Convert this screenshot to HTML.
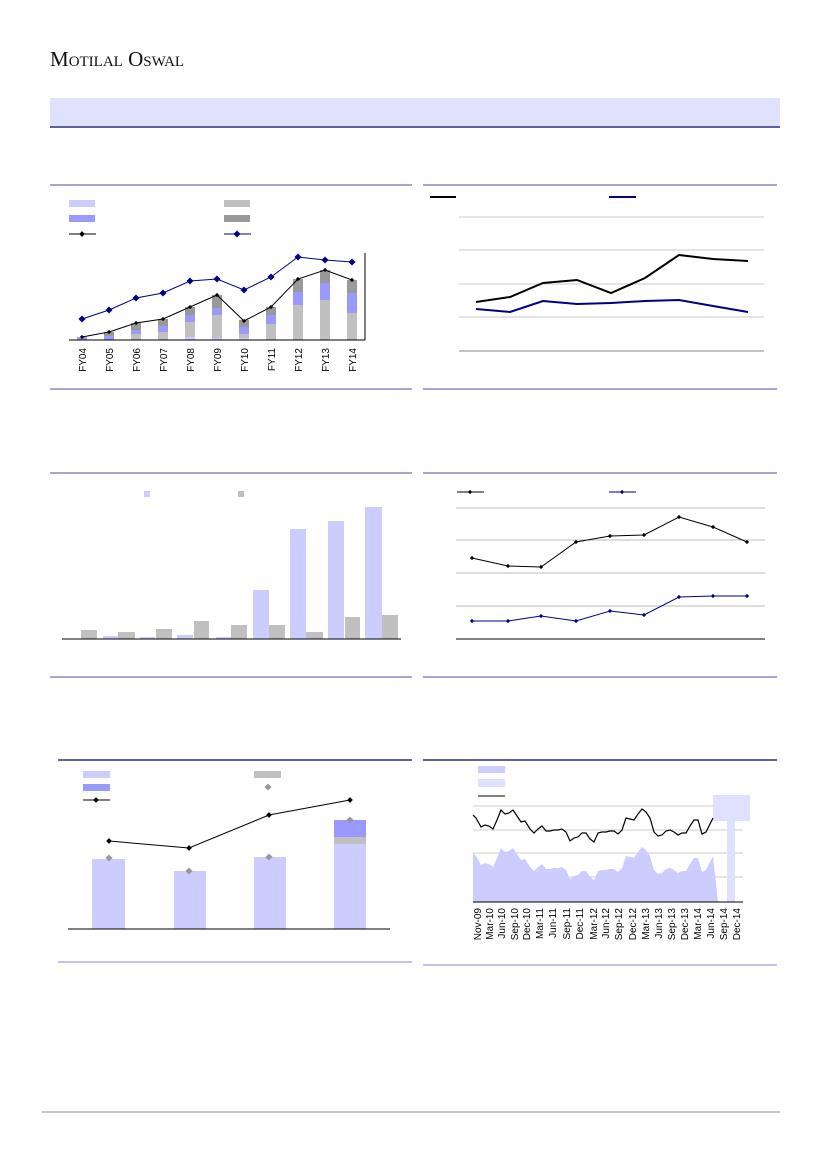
<!DOCTYPE html>
<html><head><meta charset="utf-8"><style>body{margin:0;background:#fff}svg{display:block}</style></head><body>
<svg width="827" height="1169" viewBox="0 0 827 1169" xmlns="http://www.w3.org/2000/svg" font-family="Liberation Sans, sans-serif">
<rect width="827" height="1169" fill="#fff"/>
<text x="50" y="66" font-family="Liberation Serif, serif" font-size="21" fill="#111">M<tspan font-size="15">OTILAL</tspan> O<tspan font-size="15">SWAL</tspan></text>
<rect x="50" y="98" width="730" height="28" fill="#e0e0ff"/>
<line x1="50" y1="127" x2="780" y2="127" stroke="#000066" stroke-width="1.2"/>

<!-- Chart 1 -->
<g>
<line x1="50" y1="185" x2="412" y2="185" stroke="#7070b0" stroke-width="1.2"/>
<line x1="50" y1="389" x2="412" y2="389" stroke="#7070b0" stroke-width="1.2"/>
<rect x="69" y="200" width="26" height="7" fill="#ccccff"/>
<rect x="69" y="215" width="26" height="7" fill="#9999ff"/>
<line x1="69" y1="234" x2="96" y2="234" stroke="#000"/><rect x="80" y="232" width="4" height="4" transform="rotate(45 82 234)"/>
<rect x="224" y="200" width="26" height="7" fill="#c0c0c0"/>
<rect x="224" y="215" width="26" height="7" fill="#999"/>
<line x1="224" y1="234" x2="251" y2="234" stroke="#000080"/><rect x="234.5" y="231.5" width="5" height="5" fill="#000080" transform="rotate(45 237 234)"/>
<g>
<!-- bars: x center, light(bottom gray) stacks -->
<rect x="77" y="337" width="10" height="3" fill="#9999ff"/>
<rect x="104" y="336" width="10" height="4" fill="#9999ff"/><rect x="104" y="332" width="10" height="4" fill="#999"/>
<rect x="131" y="334" width="10" height="6" fill="#c0c0c0"/><rect x="131" y="330" width="10" height="4" fill="#9999ff"/><rect x="131" y="323" width="10" height="7" fill="#999"/>
<rect x="158" y="332" width="10" height="8" fill="#c0c0c0"/><rect x="158" y="326" width="10" height="6" fill="#9999ff"/><rect x="158" y="319" width="10" height="7" fill="#999"/>
<rect x="185" y="337" width="10" height="3" fill="#ccccff"/><rect x="185" y="322" width="10" height="15" fill="#c0c0c0"/><rect x="185" y="315" width="10" height="7" fill="#9999ff"/><rect x="185" y="307" width="10" height="8" fill="#999"/>
<rect x="212" y="338" width="10" height="2" fill="#ccccff"/><rect x="212" y="315" width="10" height="23" fill="#c0c0c0"/><rect x="212" y="308" width="10" height="7" fill="#9999ff"/><rect x="212" y="295" width="10" height="13" fill="#999"/>
<rect x="239" y="338" width="10" height="2" fill="#ccccff"/><rect x="239" y="334" width="10" height="4" fill="#c0c0c0"/><rect x="239" y="327" width="10" height="7" fill="#9999ff"/><rect x="239" y="320" width="10" height="7" fill="#999"/>
<rect x="266" y="324" width="10" height="16" fill="#c0c0c0"/><rect x="266" y="315" width="10" height="9" fill="#9999ff"/><rect x="266" y="307" width="10" height="8" fill="#999"/>
<rect x="293" y="305" width="10" height="35" fill="#c0c0c0"/><rect x="293" y="292" width="10" height="13" fill="#9999ff"/><rect x="293" y="279" width="10" height="13" fill="#999"/>
<rect x="320" y="300" width="10" height="40" fill="#c0c0c0"/><rect x="320" y="283" width="10" height="17" fill="#9999ff"/><rect x="320" y="270" width="10" height="13" fill="#999"/>
<rect x="347" y="313" width="10" height="27" fill="#c0c0c0"/><rect x="347" y="293" width="10" height="20" fill="#9999ff"/><rect x="347" y="280" width="10" height="13" fill="#999"/>
</g>
<line x1="69" y1="340" x2="365" y2="340" stroke="#000"/>
<line x1="365" y1="253" x2="365" y2="340" stroke="#000"/>
<polyline fill="none" stroke="#000" points="82,337 109,332 136,323 163,319 190,307 217,295 244,321 271,307 298,279 325,270 352,280"/>
<g fill="#000"><rect x="80.5" y="335.5" width="3" height="3" transform="rotate(45 82 337)"/><rect x="107.5" y="330.5" width="3" height="3" transform="rotate(45 109 332)"/><rect x="134.5" y="321.5" width="3" height="3" transform="rotate(45 136 323)"/><rect x="161.5" y="317.5" width="3" height="3" transform="rotate(45 163 319)"/><rect x="188.5" y="305.5" width="3" height="3" transform="rotate(45 190 307)"/><rect x="215.5" y="293.5" width="3" height="3" transform="rotate(45 217 295)"/><rect x="242.5" y="319.5" width="3" height="3" transform="rotate(45 244 321)"/><rect x="269.5" y="305.5" width="3" height="3" transform="rotate(45 271 307)"/><rect x="296.5" y="277.5" width="3" height="3" transform="rotate(45 298 279)"/><rect x="323.5" y="268.5" width="3" height="3" transform="rotate(45 325 270)"/><rect x="350.5" y="278.5" width="3" height="3" transform="rotate(45 352 280)"/></g>
<polyline fill="none" stroke="#000080" points="82,319 109,310 136,298 163,293 190,281 217,279 244,290 271,277 298,257 325,260 352,262"/>
<g fill="#000080"><rect x="79.5" y="316.5" width="5" height="5" transform="rotate(45 82 319)"/><rect x="106.5" y="307.5" width="5" height="5" transform="rotate(45 109 310)"/><rect x="133.5" y="295.5" width="5" height="5" transform="rotate(45 136 298)"/><rect x="160.5" y="290.5" width="5" height="5" transform="rotate(45 163 293)"/><rect x="187.5" y="278.5" width="5" height="5" transform="rotate(45 190 281)"/><rect x="214.5" y="276.5" width="5" height="5" transform="rotate(45 217 279)"/><rect x="241.5" y="287.5" width="5" height="5" transform="rotate(45 244 290)"/><rect x="268.5" y="274.5" width="5" height="5" transform="rotate(45 271 277)"/><rect x="295.5" y="254.5" width="5" height="5" transform="rotate(45 298 257)"/><rect x="322.5" y="257.5" width="5" height="5" transform="rotate(45 325 260)"/><rect x="349.5" y="259.5" width="5" height="5" transform="rotate(45 352 262)"/></g>
<g font-size="10" fill="#000" text-anchor="end">
<text transform="translate(86,348) rotate(-90)">FY04</text><text transform="translate(113,348) rotate(-90)">FY05</text><text transform="translate(140,348) rotate(-90)">FY06</text><text transform="translate(167,348) rotate(-90)">FY07</text><text transform="translate(194,348) rotate(-90)">FY08</text><text transform="translate(221,348) rotate(-90)">FY09</text><text transform="translate(248,348) rotate(-90)">FY10</text><text transform="translate(275,348) rotate(-90)">FY11</text><text transform="translate(302,348) rotate(-90)">FY12</text><text transform="translate(329,348) rotate(-90)">FY13</text><text transform="translate(356,348) rotate(-90)">FY14</text>
</g>
</g>

<!-- Chart 2 -->
<g>
<line x1="423" y1="185" x2="777" y2="185" stroke="#7070b0" stroke-width="1.2"/>
<line x1="423" y1="389" x2="777" y2="389" stroke="#7070b0" stroke-width="1.2"/>
<line x1="430" y1="197" x2="456" y2="197" stroke="#000" stroke-width="2"/>
<line x1="609" y1="197" x2="636" y2="197" stroke="#000080" stroke-width="2"/>
<g stroke="#c8c8c8"><line x1="459" y1="217" x2="764" y2="217"/><line x1="459" y1="250" x2="764" y2="250"/><line x1="459" y1="284" x2="764" y2="284"/><line x1="459" y1="317" x2="764" y2="317"/></g>
<line x1="459" y1="351" x2="764" y2="351" stroke="#888"/>
<polyline fill="none" stroke="#000" stroke-width="2" points="476,302 510,297 543,283 577,280 611,293 645,278 679,255 713,259 748,261"/>
<polyline fill="none" stroke="#000080" stroke-width="2" points="476,309 510,312 543,301 577,304 611,303 645,301 679,300 713,306 748,312"/>
</g>

<!-- Chart 3 -->
<g>
<line x1="50" y1="473" x2="412" y2="473" stroke="#7070b0" stroke-width="1.2"/>
<line x1="50" y1="677" x2="412" y2="677" stroke="#7070b0" stroke-width="1.2"/>
<rect x="144" y="491" width="6" height="6" fill="#ccccff"/>
<rect x="238" y="491" width="6" height="6" fill="#c0c0c0"/>
<g fill="#ccccff"><rect x="103" y="636" width="15" height="3"/><rect x="140" y="637" width="15" height="2"/><rect x="177" y="635" width="16" height="4"/><rect x="216" y="637" width="15" height="2"/><rect x="253" y="590" width="16" height="49"/><rect x="290" y="529" width="16" height="110"/><rect x="328" y="521" width="16" height="118"/><rect x="365" y="507" width="17" height="132"/></g>
<g fill="#c0c0c0"><rect x="81" y="630" width="16" height="9"/><rect x="118" y="632" width="17" height="7"/><rect x="156" y="629" width="16" height="10"/><rect x="194" y="621" width="15" height="18"/><rect x="231" y="625" width="16" height="14"/><rect x="269" y="625" width="16" height="14"/><rect x="306" y="632" width="17" height="7"/><rect x="345" y="617" width="15" height="22"/><rect x="382" y="615" width="16" height="24"/></g>
<line x1="62" y1="639" x2="401" y2="639" stroke="#000"/>
</g>

<!-- Chart 4 -->
<g>
<line x1="423" y1="473" x2="777" y2="473" stroke="#7070b0" stroke-width="1.2"/>
<line x1="423" y1="677" x2="777" y2="677" stroke="#7070b0" stroke-width="1.2"/>
<line x1="457" y1="492" x2="484" y2="492" stroke="#000"/><rect x="468.5" y="490.5" width="3" height="3" transform="rotate(45 470 492)"/>
<line x1="609" y1="492" x2="636" y2="492" stroke="#000080"/><rect x="620.5" y="490.5" width="3" height="3" fill="#000080" transform="rotate(45 622 492)"/>
<g stroke="#bbb"><line x1="456" y1="508" x2="765" y2="508"/><line x1="456" y1="540" x2="765" y2="540"/><line x1="456" y1="573" x2="765" y2="573"/><line x1="456" y1="606" x2="765" y2="606"/></g>
<line x1="456" y1="639" x2="765" y2="639" stroke="#000"/>
<polyline fill="none" stroke="#000" points="472,558 508,566 541,567 576,542 610,536 644,535 679,517 713,527 747,542"/>
<g fill="#000"><rect x="470.5" y="556.5" width="3" height="3" transform="rotate(45 472 558)"/><rect x="506.5" y="564.5" width="3" height="3" transform="rotate(45 508 566)"/><rect x="539.5" y="565.5" width="3" height="3" transform="rotate(45 541 567)"/><rect x="574.5" y="540.5" width="3" height="3" transform="rotate(45 576 542)"/><rect x="608.5" y="534.5" width="3" height="3" transform="rotate(45 610 536)"/><rect x="642.5" y="533.5" width="3" height="3" transform="rotate(45 644 535)"/><rect x="677.5" y="515.5" width="3" height="3" transform="rotate(45 679 517)"/><rect x="711.5" y="525.5" width="3" height="3" transform="rotate(45 713 527)"/><rect x="745.5" y="540.5" width="3" height="3" transform="rotate(45 747 542)"/></g>
<polyline fill="none" stroke="#000080" points="472,621 508,621 541,616 576,621 610,611 644,615 679,597 713,596 747,596"/>
<g fill="#000080"><rect x="470.5" y="619.5" width="3" height="3" transform="rotate(45 472 621)"/><rect x="506.5" y="619.5" width="3" height="3" transform="rotate(45 508 621)"/><rect x="539.5" y="614.5" width="3" height="3" transform="rotate(45 541 616)"/><rect x="574.5" y="619.5" width="3" height="3" transform="rotate(45 576 621)"/><rect x="608.5" y="609.5" width="3" height="3" transform="rotate(45 610 611)"/><rect x="642.5" y="613.5" width="3" height="3" transform="rotate(45 644 615)"/><rect x="677.5" y="595.5" width="3" height="3" transform="rotate(45 679 597)"/><rect x="711.5" y="594.5" width="3" height="3" transform="rotate(45 713 596)"/><rect x="745.5" y="594.5" width="3" height="3" transform="rotate(45 747 596)"/></g>
</g>

<!-- Chart 5 -->
<g>
<line x1="58" y1="760" x2="412" y2="760" stroke="#000066" stroke-width="1.2"/>
<line x1="58" y1="962" x2="412" y2="962" stroke="#b0b0e0" stroke-width="1.5"/>
<rect x="83" y="771" width="27" height="7" fill="#ccccff"/>
<rect x="83" y="784" width="27" height="7" fill="#9999ff"/>
<line x1="83" y1="800" x2="110" y2="800" stroke="#000"/><rect x="94" y="798" width="4" height="4" transform="rotate(45 96 800)"/>
<rect x="254" y="771" width="27" height="7" fill="#c0c0c0"/>
<rect x="265.5" y="784.5" width="5" height="5" fill="#999" transform="rotate(45 268 787)"/>
<g fill="#ccccff"><rect x="92" y="859" width="33" height="70"/><rect x="174" y="871" width="32" height="58"/><rect x="254" y="857" width="32" height="72"/><rect x="334" y="844" width="32" height="85"/></g>
<rect x="334" y="837" width="32" height="7" fill="#c0c0c0"/>
<rect x="334" y="820" width="32" height="17" fill="#9999ff"/>
<line x1="68" y1="929" x2="390" y2="929" stroke="#000"/>
<polyline fill="none" stroke="#000" points="109,841 189,848 269,815 350,800"/>
<g fill="#000"><rect x="107" y="839" width="4" height="4" transform="rotate(45 109 841)"/><rect x="187" y="846" width="4" height="4" transform="rotate(45 189 848)"/><rect x="267" y="813" width="4" height="4" transform="rotate(45 269 815)"/><rect x="348" y="798" width="4" height="4" transform="rotate(45 350 800)"/></g>
<g fill="#999"><rect x="106.5" y="855.5" width="5" height="5" transform="rotate(45 109 858)"/><rect x="186.5" y="868.5" width="5" height="5" transform="rotate(45 189 871)"/><rect x="266.5" y="854.5" width="5" height="5" transform="rotate(45 269 857)"/><rect x="347.5" y="817.5" width="5" height="5" transform="rotate(45 350 820)"/></g>
</g>

<!-- Chart 6 -->
<g>
<line x1="423" y1="760" x2="777" y2="760" stroke="#000066" stroke-width="1.2"/>
<line x1="423" y1="965" x2="777" y2="965" stroke="#b0b0e0" stroke-width="1.5"/>
<rect x="478" y="766" width="27" height="7" fill="#ccccff"/>
<rect x="478" y="779" width="27" height="8" fill="#e0e0ff"/>
<line x1="478" y1="796" x2="505" y2="796" stroke="#000"/>
<g stroke="#ccc"><line x1="473" y1="806" x2="743" y2="806"/><line x1="473" y1="830" x2="743" y2="830"/><line x1="473" y1="853" x2="743" y2="853"/><line x1="473" y1="877" x2="743" y2="877"/></g>
<g transform="translate(0,38)"><polygon fill="#ccccff" points="473,815 476,818 481,827 485,825 489,826 493,829 497,820 501,810 505,814 509,813 513,810 517,816 521,822 525,821 530,829 534,833 538,829 542,826 546,831 550,831 554,830 558,830 562,829 566,832 570,841 574,838 578,837 582,833 586,833 590,839 594,842 598,833 602,832 606,832 610,831 614,831 618,834 622,830 626,818 630,819 634,820 638,814 642,809 646,812 650,818 654,832 658,836 662,835 666,831 670,830 674,832 678,835 682,833 686,833 690,826 694,820 698,820 702,834 706,832 709,826 713,818 718,864 473,864"/></g>
<rect x="713" y="795" width="37" height="26" fill="#e0e0ff"/>
<rect x="727" y="821" width="8" height="81" fill="#e0e0ff"/>
<polyline fill="none" stroke="#000" stroke-width="1.2" points="473,815 476,818 481,827 485,825 489,826 493,829 497,820 501,810 505,814 509,813 513,810 517,816 521,822 525,821 530,829 534,833 538,829 542,826 546,831 550,831 554,830 558,830 562,829 566,832 570,841 574,838 578,837 582,833 586,833 590,839 594,842 598,833 602,832 606,832 610,831 614,831 618,834 622,830 626,818 630,819 634,820 638,814 642,809 646,812 650,818 654,832 658,836 662,835 666,831 670,830 674,832 678,835 682,833 686,833 690,826 694,820 698,820 702,834 706,832 709,826 713,818"/>
<line x1="473" y1="902" x2="743" y2="902" stroke="#000"/>
<g font-size="10" fill="#000" text-anchor="end">
<text transform="translate(481,908) rotate(-90)">Nov-09</text><text transform="translate(493,908) rotate(-90)">Mar-10</text><text transform="translate(505,908) rotate(-90)">Jun-10</text><text transform="translate(518,908) rotate(-90)">Sep-10</text><text transform="translate(530,908) rotate(-90)">Dec-10</text><text transform="translate(543,908) rotate(-90)">Mar-11</text><text transform="translate(556,908) rotate(-90)">Jun-11</text><text transform="translate(570,908) rotate(-90)">Sep-11</text><text transform="translate(583,908) rotate(-90)">Dec-11</text><text transform="translate(597,908) rotate(-90)">Mar-12</text><text transform="translate(609,908) rotate(-90)">Jun-12</text><text transform="translate(622,908) rotate(-90)">Sep-12</text><text transform="translate(636,908) rotate(-90)">Dec-12</text><text transform="translate(649,908) rotate(-90)">Mar-13</text><text transform="translate(662,908) rotate(-90)">Jun-13</text><text transform="translate(675,908) rotate(-90)">Sep-13</text><text transform="translate(688,908) rotate(-90)">Dec-13</text><text transform="translate(701,908) rotate(-90)">Mar-14</text><text transform="translate(714,908) rotate(-90)">Jun-14</text><text transform="translate(727,908) rotate(-90)">Sep-14</text><text transform="translate(740,908) rotate(-90)">Dec-14</text>
</g>
</g>

<line x1="42" y1="1112" x2="780" y2="1112" stroke="#888"/>
</svg>
</body></html>
